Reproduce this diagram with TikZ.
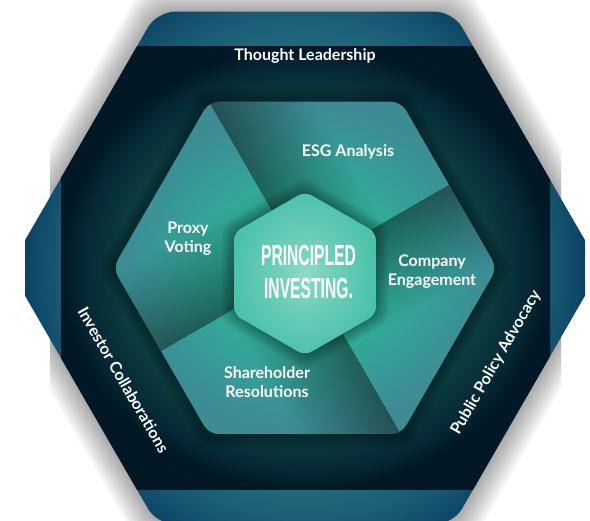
\documentclass[tikz,border=0pt]{standalone}
\usepackage{fontspec}
\setmainfont{Lato}
\newfontfamily\condfont{Liberation Sans}
\usetikzlibrary{fadings}

\definecolor{obA}{HTML}{2A7684}
\definecolor{obB}{HTML}{21687A}
\definecolor{obC}{HTML}{175872}
\definecolor{obD}{HTML}{0C4364}
\definecolor{obE}{HTML}{0A3B5A}
\definecolor{dkA}{HTML}{0E4648}
\definecolor{dkB}{HTML}{0B3B40}
\definecolor{dkC}{HTML}{062A36}
\definecolor{dkD}{HTML}{021826}
\definecolor{dkE}{HTML}{010F1B}
\definecolor{inA}{HTML}{2DB89C}
\definecolor{inB}{HTML}{31AB98}
\definecolor{inC}{HTML}{3B9195}
\definecolor{inD}{HTML}{3D8B93}
\definecolor{ctA}{HTML}{8FD9C8}
\definecolor{ctB}{HTML}{6ACDB7}
\definecolor{ctC}{HTML}{4DC2AA}
\definecolor{ctD}{HTML}{48BEA6}

\pgfdeclareradialshading{outerblue}{\pgfpoint{0bp}{0bp}}{color(0bp)=(obA); color(18.75bp)=(obB); color(22bp)=(obC); color(25bp)=(obD); color(50bp)=(obE)}
\pgfdeclareradialshading{darkring}{\pgfpoint{0bp}{0bp}}{color(0bp)=(dkA); color(19bp)=(dkB); color(22.5bp)=(dkC); color(25bp)=(dkD); color(50bp)=(dkE)}
\pgfdeclareradialshading{innerglow}{\pgfpoint{0bp}{0bp}}{color(0bp)=(inA); color(12bp)=(inB); color(22bp)=(inC); color(25bp)=(inD); color(50bp)=(inD)}
\pgfdeclareradialshading{centerglow}{\pgfpoint{0bp}{0bp}}{color(0bp)=(ctA); color(12bp)=(ctB); color(25bp)=(ctC); color(50bp)=(ctD)}

\tikzfading[name=fadeR, left color=transparent!0, right color=transparent!100]

\newcommand\hexF[3]{({#1+(#3)},{#2}) -- ({#1+0.5*(#3)},{#2+0.8660254*(#3)}) -- ({#1-0.5*(#3)},{#2+0.8660254*(#3)}) -- ({#1-(#3)},{#2}) -- ({#1-0.5*(#3)},{#2-0.8660254*(#3)}) -- ({#1+0.5*(#3)},{#2-0.8660254*(#3)}) -- cycle}
\newcommand\hexP[3]{({#1},{#2+(#3)}) -- ({#1-0.8660254*(#3)},{#2+0.5*(#3)}) -- ({#1-0.8660254*(#3)},{#2-0.5*(#3)}) -- ({#1},{#2-(#3)}) -- ({#1+0.8660254*(#3)},{#2-0.5*(#3)}) -- ({#1+0.8660254*(#3)},{#2+0.5*(#3)}) -- cycle}

\tikzset{
  lbl/.style={text=white, font=\fontsize{16}{19}\selectfont\bfseries, align=center, inner sep=0pt},
  shadowdark/.style={fill=black, fill opacity=0.42, path fading=fadeR}
}

\begin{document}
\begin{tikzpicture}[x=1pt,y=1pt]
\useasboundingbox (0,0) rectangle (590,521);
\fill[white] (0,0) rectangle (590,521);

% soft shadow around the outer hexagon
\begin{scope}
  \clip (50,0) rectangle (561,521);
  \foreach \i in {1,...,15}
    \fill[black, opacity=0.022, rounded corners=18pt] \hexF{305}{253}{296+2*\i};
\end{scope}

% outer hexagon with dark rectangle overlay
\begin{scope}
  \clip[rounded corners=18pt] \hexF{305}{253}{296};
  \shade[shading=outerblue] (25,-47) rectangle (585,553);
  \shade[shading=darkring] (61,31) rectangle (550,474);
\end{scope}

% halo of the inner hexagon
\foreach \i in {1,...,6}
  \fill[black, opacity=0.05, rounded corners=10pt] \hexF{305}{253}{192+2.5*\i};

% inner hexagon, four segments
\begin{scope}
  \clip[rounded corners=10pt] \hexF{305}{253}{192};
  \shade[shading=innerglow] (113,87) rectangle (497,419);
  % ESG segment (dark along the ray at 120 deg)
  \begin{scope}
    \clip (305,253) -- (449,336.15) -- (401,419.3) -- (209,419.3) -- cycle;
    \fill[shadowdark, transform canvas={shift={(305,253)}, rotate=30}] (0,-20) rectangle (90,230);
  \end{scope}
  % Company segment (dark along the ray at 30 deg)
  \begin{scope}
    \clip (305,253) -- (401,86.7) -- (497,253) -- (449,336.15) -- cycle;
    \fill[shadowdark, transform canvas={shift={(305,253)}, rotate=-60}] (0,-20) rectangle (90,230);
  \end{scope}
  % Proxy segment (dark along the ray at 210 deg)
  \begin{scope}
    \clip (305,253) -- (209,419.3) -- (113,253) -- (161,169.85) -- cycle;
    \fill[shadowdark, transform canvas={shift={(305,253)}, rotate=120}] (0,-20) rectangle (90,230);
  \end{scope}
  % Shareholder segment (dark along the ray at 300 deg)
  \begin{scope}
    \clip (305,253) -- (161,169.85) -- (209,86.7) -- (401,86.7) -- cycle;
    \fill[shadowdark, transform canvas={shift={(305,253)}, rotate=210}] (0,-20) rectangle (90,230);
  \end{scope}
\end{scope}

% shadow of the centre hexagon
\foreach \i in {1,...,8}
  \fill[black, opacity=0.035, rounded corners=8pt] \hexP{305}{247.5}{82+1.8*\i};

% centre hexagon
\begin{scope}
  \clip[rounded corners=8pt] \hexP{305}{247.5}{82};
  \shade[shading=centerglow] (234,165.5) rectangle (376,329.5);
\end{scope}

% labels
\node[lbl, anchor=base] (tl) at (305,460) {Thought Leadership};
\node[lbl, anchor=base] (esg) at (348,364.3) {ESG Analysis};
\node[lbl] (proxy) at (188,282.5) {Proxy\\Voting};
\node[lbl] (company) at (432,249) {Company\\Engagement};
\node[lbl] (share) at (267,139.3) {Shareholder\\Resolutions};
\node[text=white, align=center, inner sep=0pt, font=\condfont\bfseries\fontsize{29}{32.5}\selectfont] (pi) at (308.5,249.2)
  {\scalebox{0.54}[1]{PRINCIPLED}\\\scalebox{0.54}[1]{INVESTING.}};
\node[lbl, rotate=-60] (invc) at (123.5,141) {Investor Collaborations};
\node[lbl, rotate=60] (ppa) at (496,158.5) {Public Policy Advocacy};
\end{tikzpicture}
\end{document}
